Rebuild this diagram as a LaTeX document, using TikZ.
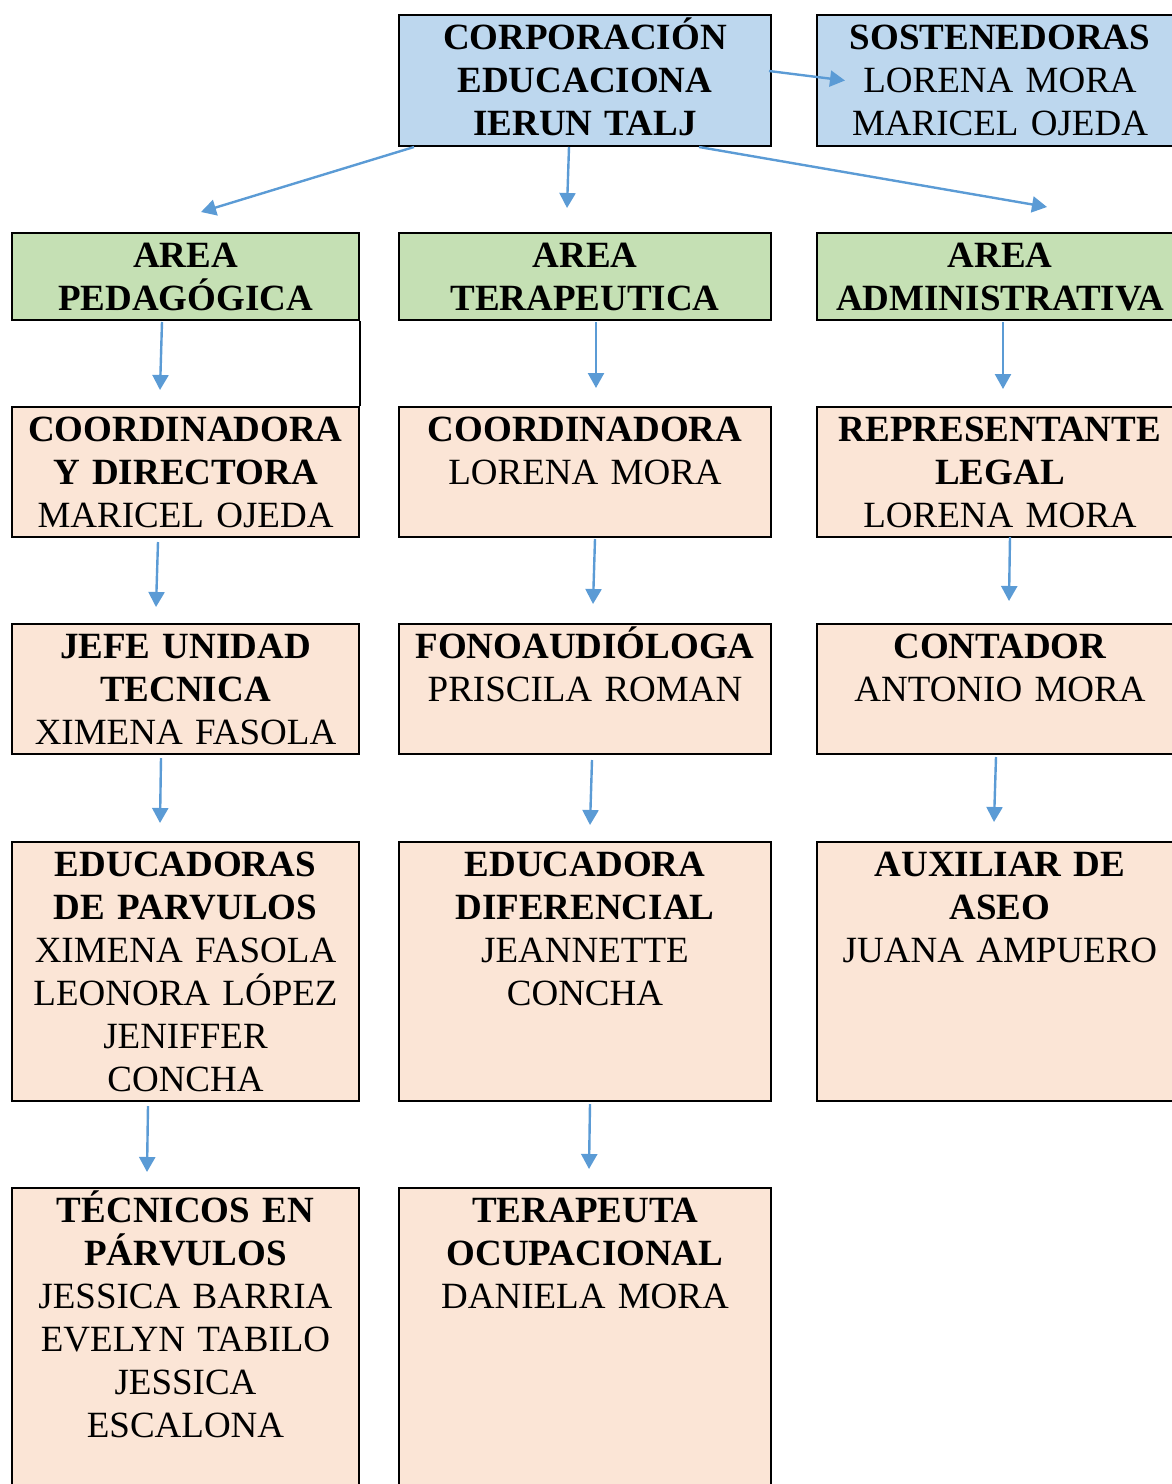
\documentclass[tikz,border=0pt]{standalone}
\usepackage{fontspec}
\setmainfont{Liberation Serif}
\usetikzlibrary{arrows.meta,positioning}
\definecolor{cajaazul}{HTML}{BDD7EE}
\definecolor{cajaverde}{HTML}{C5E0B4}
\definecolor{cajarosa}{HTML}{FBE5D6}
\definecolor{flechaazul}{HTML}{5B9BD5}
\begin{document}
\begin{tikzpicture}[x=1pt, y=-1pt,
    every node/.style={font=\fontsize{37}{43}\selectfont},
    caja/.style={draw, line width=2pt, inner sep=0pt, align=center, anchor=north, text height=34pt},
    azul/.style={caja, fill=cajaazul},
    verde/.style={caja, fill=cajaverde},
    rosa/.style={caja, fill=cajarosa},
    flecha/.style={draw=flechaazul, line width=2.4pt, -{Triangle[length=15pt,width=16pt]}}]
        \useasboundingbox (0,0) rectangle (1172,1484);
        % fila superior
        \node [azul, text width=372pt, text depth=97pt] (corp) at (585,14) {\textbf{CORPORACIÓN}\\\textbf{EDUCACIONA}\\\textbf{IERUN TALJ}};
        \node [azul, text width=366pt, text depth=97pt] (sost) at (1000,14) {\textbf{SOSTENEDORAS}\\LORENA MORA\\MARICEL OJEDA};
        % areas
        \node [verde, text width=347pt, text depth=53pt] (ped) at (185.5,232) {\textbf{AREA}\\\textbf{PEDAGÓGICA}};
        \node [verde, text width=372pt, text depth=53pt] (ter) at (585,232) {\textbf{AREA}\\\textbf{TERAPEUTICA}};
        \node [verde, text width=366pt, text depth=53pt] (adm) at (1000,232) {\textbf{AREA}\\\textbf{ADMINISTRATIVA}};
        % segunda fila
        \node [rosa, text width=347pt, text depth=96pt] (coorda) at (185.5,406) {\textbf{COORDINADORA}\\\textbf{Y DIRECTORA}\\MARICEL OJEDA};
        \node [rosa, text width=372pt, text depth=96pt] (coordb) at (585,406) {\textbf{COORDINADORA}\\LORENA MORA};
        \node [rosa, text width=366pt, text depth=96pt] (rep) at (1000,406) {\textbf{REPRESENTANTE}\\\textbf{LEGAL}\\LORENA MORA};
        % tercera fila
        \node [rosa, text width=347pt, text depth=96pt] (jefe) at (185.5,623) {\textbf{JEFE UNIDAD}\\\textbf{TECNICA}\\XIMENA FASOLA};
        \node [rosa, text width=372pt, text depth=96pt] (fono) at (585,623) {\textbf{FONOAUDIÓLOGA}\\PRISCILA ROMAN};
        \node [rosa, text width=366pt, text depth=96pt] (cont) at (1000,623) {\textbf{CONTADOR}\\ANTONIO MORA};
        % cuarta fila
        \node [rosa, text width=347pt, text depth=225pt] (educa) at (185.5,841) {\textbf{EDUCADORAS}\\\textbf{DE PARVULOS}\\XIMENA FASOLA\\LEONORA LÓPEZ\\JENIFFER\\CONCHA};
        \node [rosa, text width=372pt, text depth=225pt] (educb) at (585,841) {\textbf{EDUCADORA}\\\textbf{DIFERENCIAL}\\JEANNETTE\\CONCHA};
        \node [rosa, text width=366pt, text depth=225pt] (aux) at (1000,841) {\textbf{AUXILIAR DE}\\\textbf{ASEO}\\JUANA AMPUERO};
        % quinta fila
        \node [rosa, text width=347pt, text depth=280pt] (tec) at (185.5,1187) {\textbf{TÉCNICOS EN}\\\textbf{PÁRVULOS}\\JESSICA BARRIA\\EVELYN TABILO\\JESSICA\\ESCALONA};
        \node [rosa, text width=372pt, text depth=280pt] (terap) at (585,1187) {\textbf{TERAPEUTA}\\\textbf{OCUPACIONAL}\\DANIELA MORA};
        \draw [line width=2pt] (ped.south east) -- (coorda.north east);
        % flechas
        \draw [flecha] ([xshift=-3pt,yshift=9.5pt]corp.east) -- ([xshift=29pt]sost.west);
        \draw [flecha] ([xshift=16pt]corp.south west) -- ([xshift=15.5pt,yshift=20pt]ped.north);
        \draw [flecha] ([xshift=-16pt]corp.south) -- ([xshift=-18pt,yshift=24pt]ter.north);
        \draw [flecha] ([xshift=-73pt]corp.south east) -- ([xshift=47pt,yshift=25pt]adm.north);
        \draw [flecha] ([xshift=-23.5pt,yshift=-1pt]ped.south) -- ([xshift=-25.5pt,yshift=16pt]coorda.north);
        \draw [flecha] ([xshift=11pt,yshift=-1pt]ter.south) -- ([xshift=11pt,yshift=18pt]coordb.north);
        \draw [flecha] ([xshift=3pt,yshift=-1pt]adm.south) -- ([xshift=3pt,yshift=17pt]rep.north);
        \draw [flecha] ([xshift=-27.5pt,yshift=-4pt]coorda.south) -- ([xshift=-29.5pt,yshift=16pt]jefe.north);
        \draw [flecha] ([xshift=10pt,yshift=-1pt]coordb.south) -- ([xshift=8pt,yshift=19pt]fono.north);
        \draw [flecha] ([xshift=10pt,yshift=1pt]rep.south) -- ([xshift=9pt,yshift=22pt]cont.north);
        \draw [flecha] ([xshift=-24.5pt,yshift=-3pt]jefe.south) -- ([xshift=-25.5pt,yshift=18pt]educa.north);
        \draw [flecha] ([xshift=7pt,yshift=-5pt]fono.south) -- ([xshift=5pt,yshift=16pt]educb.north);
        \draw [flecha] ([xshift=-4pt,yshift=-2pt]cont.south) -- ([xshift=-6pt,yshift=19pt]aux.north);
        \draw [flecha] ([xshift=-37.5pt,yshift=-4pt]educa.south) -- ([xshift=-38.5pt,yshift=15pt]tec.north);
        \draw [flecha] ([xshift=5pt,yshift=-2pt]educb.south) -- ([xshift=4pt,yshift=18pt]terap.north);
\end{tikzpicture}
\end{document}
